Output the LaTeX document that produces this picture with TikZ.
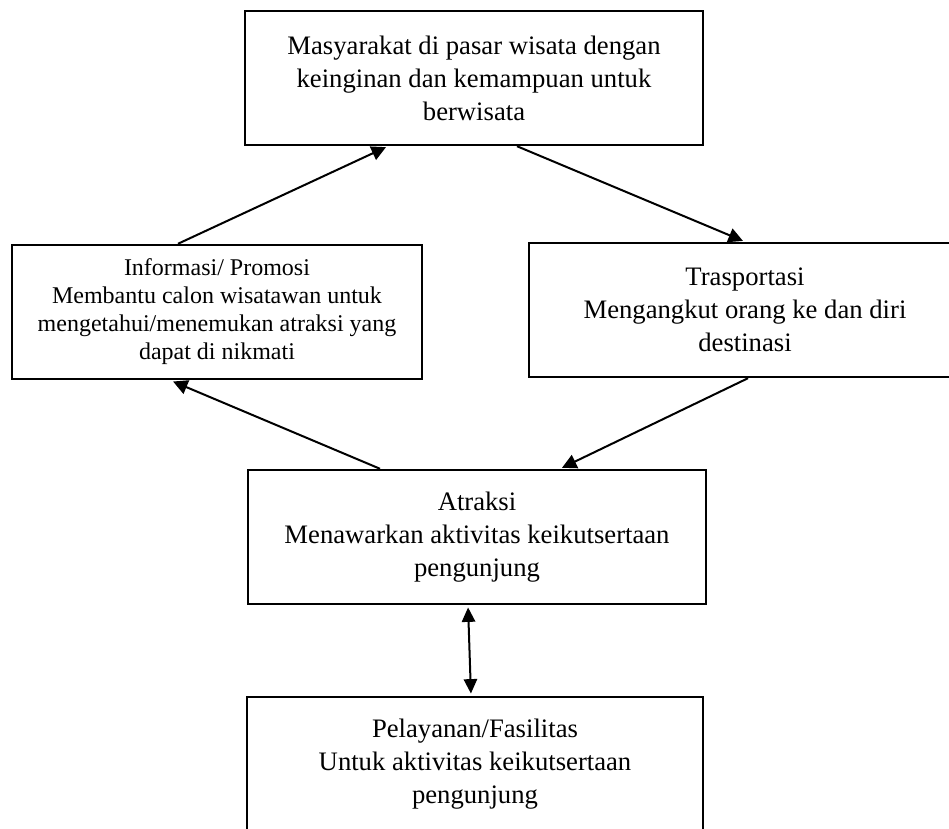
\documentclass[tikz,border=0pt]{standalone}
\usepackage{fontspec}
\setmainfont{Liberation Serif}
\usetikzlibrary{arrows.meta}
\begin{document}
\begin{tikzpicture}
	[x=0.45pt,y=-0.45pt,
	box/.style={rectangle,draw,line width=1.1pt,align=center,inner sep=0pt,minimum height=60.3pt,font=\fontsize{12}{14.85}\selectfont},
	link/.style={line width=0.9pt,-{Triangle[length=6.5pt,width=6.5pt]}},
	twoway/.style={line width=0.9pt,{Triangle[length=6.5pt,width=6pt]}-{Triangle[length=6.5pt,width=6pt]}}]
	\clip (0,0) rectangle (949,829);
	\node[box,minimum width=206pt] (pasar) at (474,78) {Masyarakat di pasar wisata dengan\\ keinginan dan kemampuan untuk\\ berwisata};
	\node[box,minimum width=184.5pt,font=\fontsize{10.8}{12.6}\selectfont] (info) at (217,312) {Informasi/ Promosi\\ Membantu calon wisatawan untuk\\ mengetahui/menemukan atraksi yang\\ dapat di nikmati};
	\node[box,minimum width=194.4pt] (trans) at (745,310) {Trasportasi\\ Mengangkut orang ke dan diri\\ destinasi};
	\node[box,minimum width=206.1pt] (atraksi) at (477,537) {Atraksi\\ Menawarkan aktivitas keikutsertaan\\ pengunjung};
	\node[box,minimum width=205.2pt] (fasilitas) at (475,764) {Pelayanan/Fasilitas\\ Untuk aktivitas keikutsertaan\\ pengunjung};
	\draw [link,shorten >=1pt] ([xshift=-17.55pt]info.north) -- ([xshift=-38.7pt]pasar.south);
	\draw [link,shorten >=1pt] ([xshift=19.35pt]pasar.south) -- ([xshift=0pt]trans.north);
	\draw [link,shorten >=1pt] ([xshift=1.35pt]trans.south) -- ([xshift=37.35pt]atraksi.north);
	\draw [link,shorten >=1.5pt] ([xshift=-43.65pt]atraksi.north) -- ([xshift=-21.15pt]info.south);
	\draw [twoway,shorten >=1pt,shorten <=1pt] ([xshift=-4.05pt]atraksi.south) -- ([xshift=-1.8pt]fasilitas.north);
\end{tikzpicture}
\end{document}
